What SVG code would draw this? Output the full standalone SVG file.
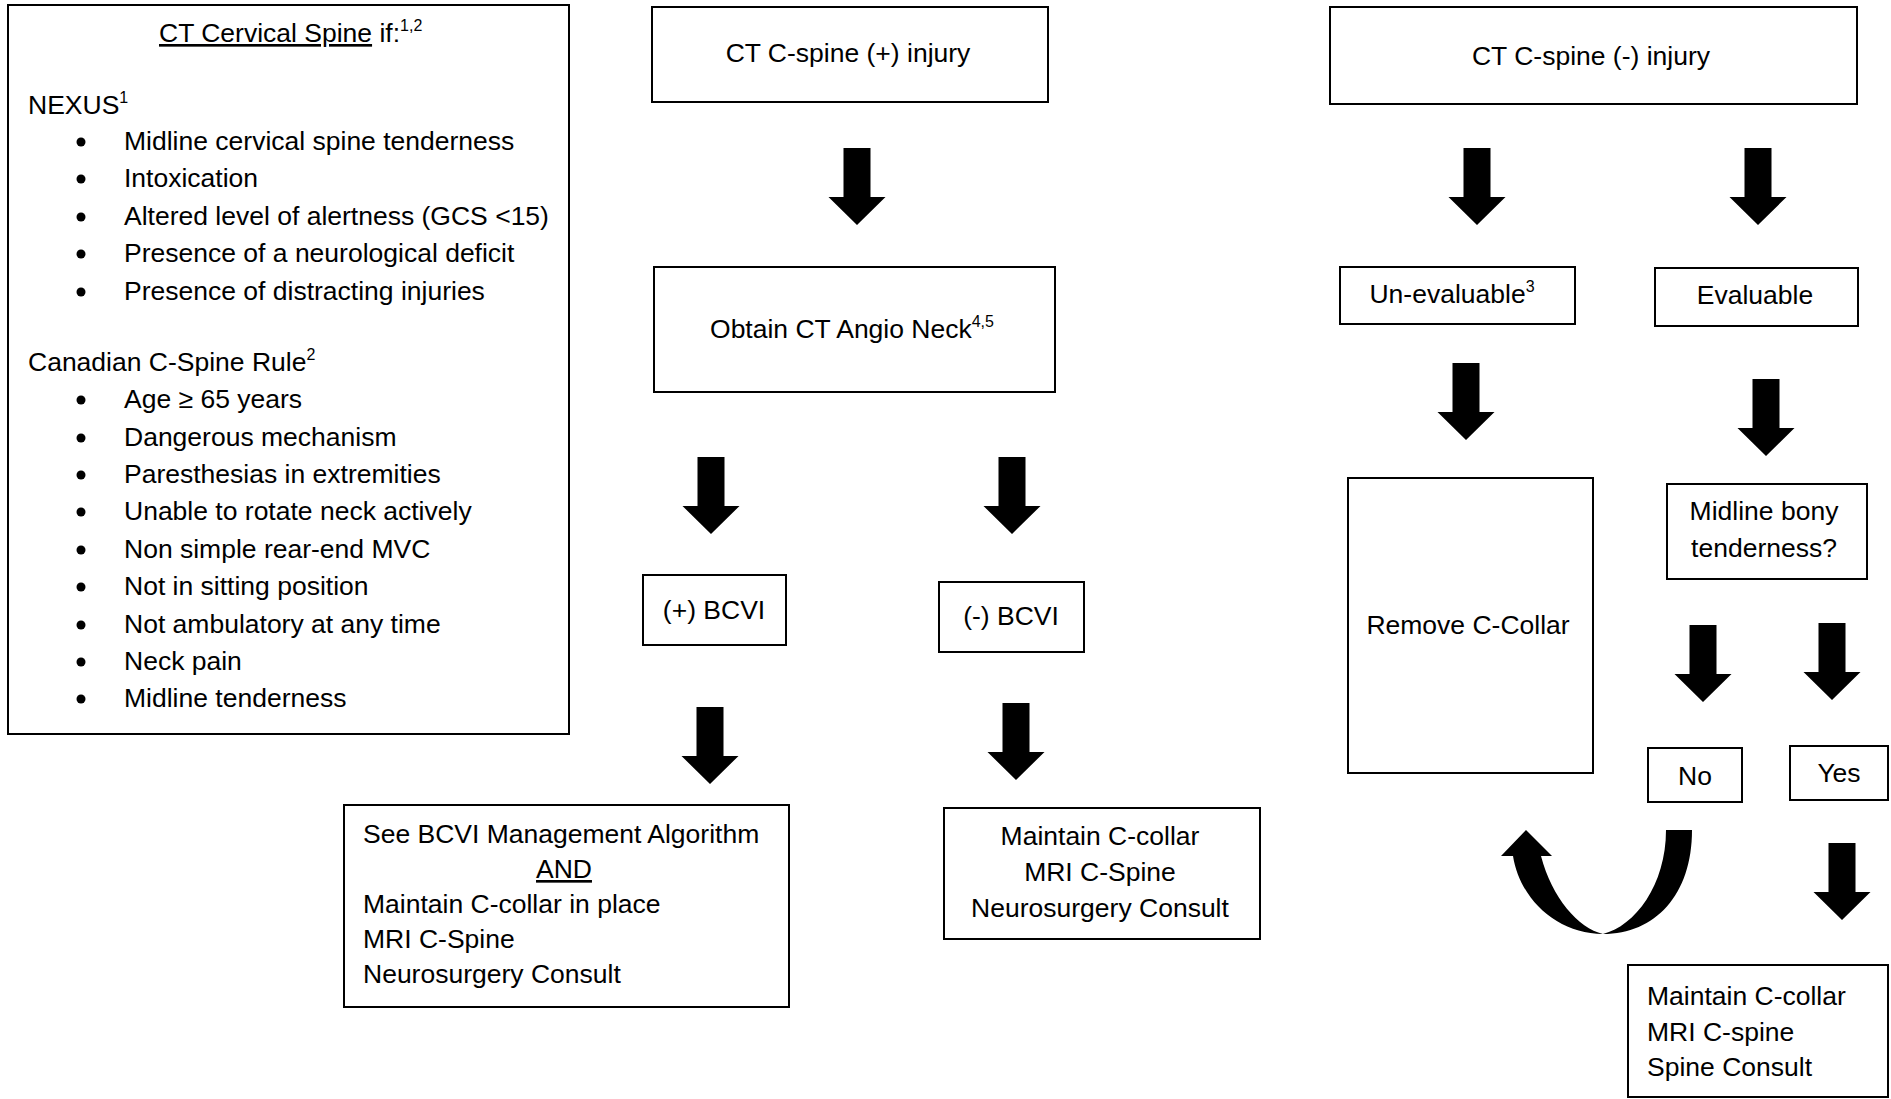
<svg xmlns="http://www.w3.org/2000/svg" xmlns:xlink="http://www.w3.org/1999/xlink" width="1891" height="1099" viewBox="0 0 1891 1099">
<style>
  .box { fill: #fff; stroke: #000; stroke-width: 2; }
  text { font-family: "Liberation Sans", Arial, sans-serif; font-size: 26.5px; fill: #000; }
  .c { text-anchor: middle; }
  .sup { font-size: 16px; }
  .arrow { fill: #000; }
</style>
<defs>
  <path id="dn" d="M -13.5 0 H 13.5 V 49 H 28.5 L 0 77 L -28.5 49 H -13.5 Z"/>
</defs>
<rect width="1891" height="1099" fill="#fff"/>

<g id="connectors">
  <use xlink:href="#dn" class="arrow" transform="translate(857,148)"/>
  <use xlink:href="#dn" class="arrow" transform="translate(711,457)"/>
  <use xlink:href="#dn" class="arrow" transform="translate(1012,457)"/>
  <use xlink:href="#dn" class="arrow" transform="translate(710,707)"/>
  <use xlink:href="#dn" class="arrow" transform="translate(1016,703)"/>
  <use xlink:href="#dn" class="arrow" transform="translate(1477,148)"/>
  <use xlink:href="#dn" class="arrow" transform="translate(1758,148)"/>
  <use xlink:href="#dn" class="arrow" transform="translate(1466,363)"/>
  <use xlink:href="#dn" class="arrow" transform="translate(1766,379)"/>
  <use xlink:href="#dn" class="arrow" transform="translate(1703,625)"/>
  <use xlink:href="#dn" class="arrow" transform="translate(1832,623)"/>
  <use xlink:href="#dn" class="arrow" transform="translate(1842,843)"/>
  <path class="arrow" d="M 1692 830 C 1692 895 1655 934 1603 934 C 1558 934 1520 900 1513 856 L 1501 856 L 1526 830 L 1552 856 L 1541 856 C 1552 898 1578 928 1603 934 C 1635 926 1666 885 1666 830 Z"/>
</g>

<g id="criteria">
  <rect class="box" x="8" y="5" width="561" height="729"/>
  <text x="159" y="42"><tspan text-decoration="underline">CT Cervical Spine</tspan> if:<tspan class="sup" dy="-11">1,2</tspan></text>
  <text x="28" y="114">NEXUS<tspan class="sup" dy="-11">1</tspan></text>
  <g>
    <circle cx="81" cy="142" r="4.5"/><text x="124" y="150">Midline cervical spine tenderness</text>
    <circle cx="81" cy="179" r="4.5"/><text x="124" y="187">Intoxication</text>
    <circle cx="81" cy="217" r="4.5"/><text x="124" y="225">Altered level of alertness (GCS &lt;15)</text>
    <circle cx="81" cy="254" r="4.5"/><text x="124" y="262">Presence of a neurological deficit</text>
    <circle cx="81" cy="292" r="4.5"/><text x="124" y="300">Presence of distracting injuries</text>
  </g>
  <text x="28" y="371">Canadian C-Spine Rule<tspan class="sup" dy="-11">2</tspan></text>
  <g>
    <circle cx="81" cy="400" r="4.5"/><text x="124" y="408">Age ≥ 65 years</text>
    <circle cx="81" cy="438" r="4.5"/><text x="124" y="446">Dangerous mechanism</text>
    <circle cx="81" cy="475" r="4.5"/><text x="124" y="483">Paresthesias in extremities</text>
    <circle cx="81" cy="512" r="4.5"/><text x="124" y="520">Unable to rotate neck actively</text>
    <circle cx="81" cy="550" r="4.5"/><text x="124" y="558">Non simple rear-end MVC</text>
    <circle cx="81" cy="587" r="4.5"/><text x="124" y="595">Not in sitting position</text>
    <circle cx="81" cy="625" r="4.5"/><text x="124" y="633">Not ambulatory at any time</text>
    <circle cx="81" cy="662" r="4.5"/><text x="124" y="670">Neck pain</text>
    <circle cx="81" cy="699" r="4.5"/><text x="124" y="707">Midline tenderness</text>
  </g>
</g>

<g id="ct-pos">
  <rect class="box" x="652" y="7" width="396" height="95"/>
  <text class="c" x="848" y="62">CT C-spine (+) injury</text>
</g>
<g id="cta">
  <rect class="box" x="654" y="267" width="401" height="125"/>
  <text class="c" x="852" y="338">Obtain CT Angio Neck<tspan class="sup" dy="-11">4,5</tspan></text>
</g>
<g id="bcvi-pos">
  <rect class="box" x="643" y="575" width="143" height="70"/>
  <text class="c" x="714" y="619">(+) BCVI</text>
</g>
<g id="bcvi-neg">
  <rect class="box" x="939" y="582" width="145" height="70"/>
  <text class="c" x="1011" y="625">(-) BCVI</text>
</g>
<g id="bcvi-mgmt">
  <rect class="box" x="344" y="805" width="445" height="202"/>
  <text x="363" y="843">See BCVI Management Algorithm</text>
  <text class="c" x="564" y="878" text-decoration="underline">AND</text>
  <text x="363" y="913">Maintain C-collar in place</text>
  <text x="363" y="948">MRI C-Spine</text>
  <text x="363" y="983">Neurosurgery Consult</text>
</g>
<g id="neg-bcvi-plan">
  <rect class="box" x="944" y="808" width="316" height="131"/>
  <text class="c" x="1100" y="845">Maintain C-collar</text>
  <text class="c" x="1100" y="881">MRI C-Spine</text>
  <text class="c" x="1100" y="917">Neurosurgery Consult</text>
</g>

<g id="ct-neg">
  <rect class="box" x="1330" y="7" width="527" height="97"/>
  <text class="c" x="1591" y="65">CT C-spine (-) injury</text>
</g>
<g id="unevaluable">
  <rect class="box" x="1340" y="267" width="235" height="57"/>
  <text class="c" x="1452" y="303">Un-evaluable<tspan class="sup" dy="-11">3</tspan></text>
</g>
<g id="evaluable">
  <rect class="box" x="1655" y="268" width="203" height="58"/>
  <text class="c" x="1755" y="304">Evaluable</text>
</g>
<g id="remove-collar">
  <rect class="box" x="1348" y="478" width="245" height="295"/>
  <text class="c" x="1468" y="634">Remove C-Collar</text>
</g>
<g id="midline-q">
  <rect class="box" x="1667" y="484" width="200" height="95"/>
  <text class="c" x="1764" y="520">Midline bony</text>
  <text class="c" x="1764" y="557">tenderness?</text>
</g>
<g id="no">
  <rect class="box" x="1648" y="748" width="94" height="54"/>
  <text class="c" x="1695" y="785">No</text>
</g>
<g id="yes">
  <rect class="box" x="1790" y="746" width="98" height="54"/>
  <text class="c" x="1839" y="782">Yes</text>
</g>
<g id="spine-plan">
  <rect class="box" x="1628" y="965" width="260" height="132"/>
  <text x="1647" y="1005">Maintain C-collar</text>
  <text x="1647" y="1041">MRI C-spine</text>
  <text x="1647" y="1076">Spine Consult</text>
</g>
</svg>
